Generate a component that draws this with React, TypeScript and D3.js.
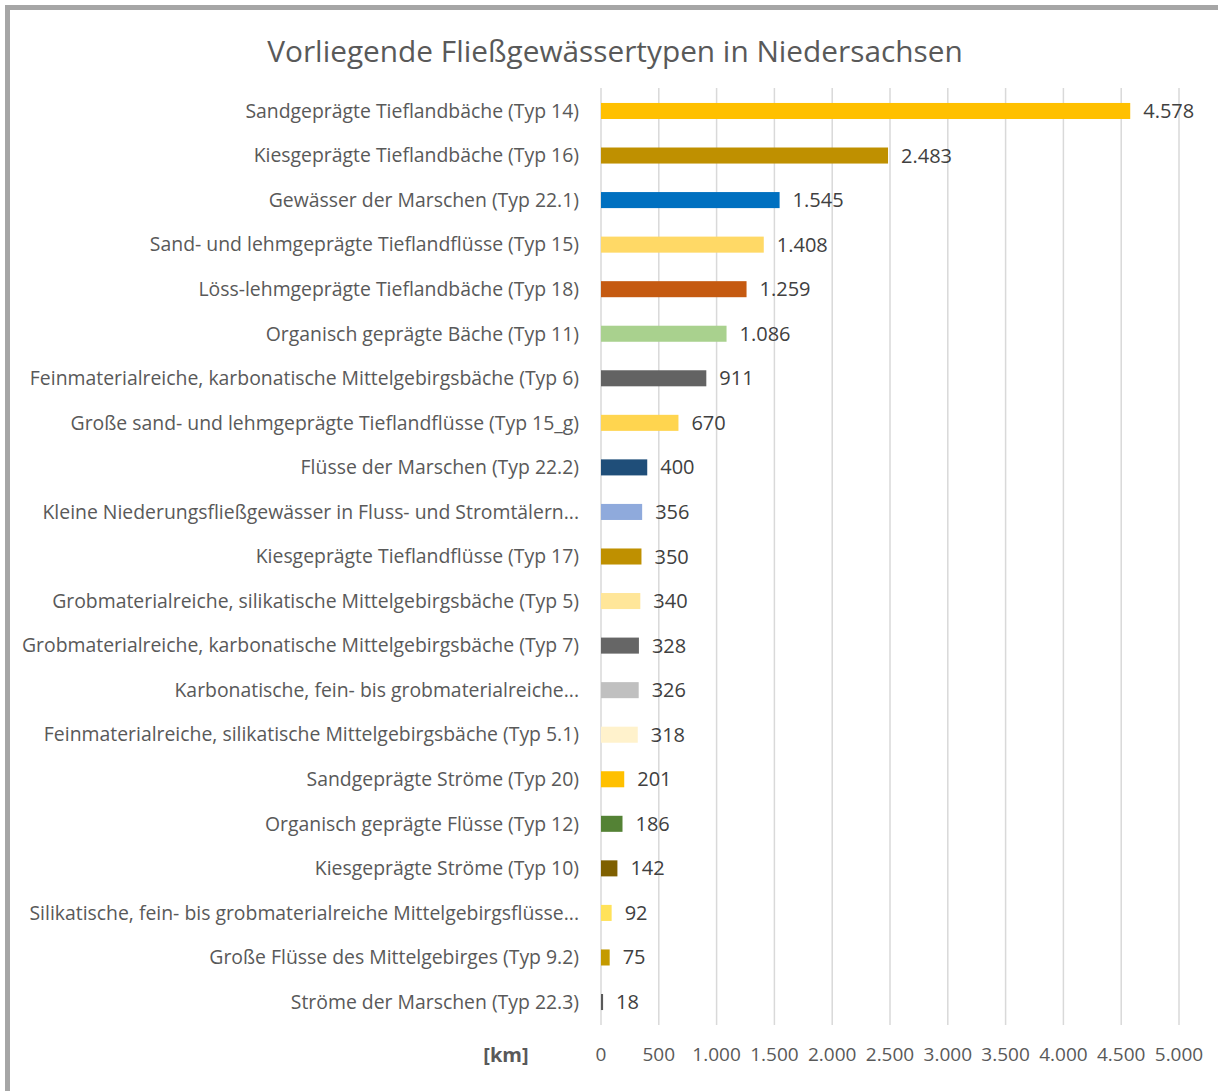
import React from "react";
import * as d3 from "d3";

const categories = [
  "Sandgeprägte Tieflandbäche (Typ 14)",
  "Kiesgeprägte Tieflandbäche (Typ 16)",
  "Gewässer der Marschen (Typ 22.1)",
  "Sand- und lehmgeprägte Tieflandflüsse (Typ 15)",
  "Löss-lehmgeprägte Tieflandbäche (Typ 18)",
  "Organisch geprägte Bäche (Typ 11)",
  "Feinmaterialreiche, karbonatische Mittelgebirgsbäche (Typ 6)",
  "Große sand- und lehmgeprägte Tieflandflüsse (Typ 15_g)",
  "Flüsse der Marschen (Typ 22.2)",
  "Kleine Niederungsfließgewässer in Fluss- und Stromtälern...",
  "Kiesgeprägte Tieflandflüsse (Typ 17)",
  "Grobmaterialreiche, silikatische Mittelgebirgsbäche (Typ 5)",
  "Grobmaterialreiche, karbonatische Mittelgebirgsbäche (Typ 7)",
  "Karbonatische, fein- bis grobmaterialreiche...",
  "Feinmaterialreiche, silikatische Mittelgebirgsbäche (Typ 5.1)",
  "Sandgeprägte Ströme (Typ 20)",
  "Organisch geprägte Flüsse (Typ 12)",
  "Kiesgeprägte Ströme (Typ 10)",
  "Silikatische, fein- bis grobmaterialreiche Mittelgebirgsflüsse...",
  "Große Flüsse des Mittelgebirges (Typ 9.2)",
  "Ströme der Marschen (Typ 22.3)",
];

const values = [4578, 2483, 1545, 1408, 1259, 1086, 911, 670, 400, 356, 350, 340, 328, 326, 318, 201, 186, 142, 92, 75, 18];

const colors = [
  "#FFC000", "#BF9000", "#0070C0", "#FFD966", "#C55A11", "#A9D18E", "#636363",
  "#FFD54F", "#1F4E79", "#8FAADC", "#BF9000", "#FFE699", "#666666", "#C0C0C0",
  "#FFF2CC", "#FFC000", "#548235", "#7F6000", "#FFE25A", "#C49A00", "#595959",
];

const tickValues = [0, 500, 1000, 1500, 2000, 2500, 3000, 3500, 4000, 4500, 5000];

const fmt = (v: number) => d3.format(",")(v).replace(/,/g, ".");

export default function App() {
  const W = 1218, H = 1091;
  const x = d3.scaleLinear().domain([0, 5000]).range([601, 1179]);
  const y = d3.scaleBand<string>().domain(categories).range([88.7, 1024.3]).paddingInner(0.64).paddingOuter(0.32);
  const font = "'Open Sans', Lato, sans-serif";
  return (
    <svg width={W} height={H} style={{ position: "absolute", left: 0, top: 0, background: "#fff" }} fontFamily={font}>
      <rect x={0} y={0} width={W} height={H} fill="#fff" />
      <rect x={5} y={5} width={W} height={5} fill="#a6a6a6" />
      <rect x={5} y={5} width={5} height={H} fill="#a6a6a6" />
      <text x={615} y={62} textAnchor="middle" fontSize={29.8} fill="#595959">
        Vorliegende Fließgewässertypen in Niedersachsen
      </text>
      {tickValues.map((t) => (
        <line key={"g" + t} x1={x(t)} x2={x(t)} y1={88} y2={1025} stroke="#d9d9d9" strokeWidth={1.5} />
      ))}
      {categories.map((c, i) => {
        const yy = y(c)!;
        const h = y.bandwidth();
        return (
          <g key={c}>
            <rect x={x(0)} y={yy} width={Math.max(1.5, x(values[i]) - x(0))} height={h} fill={colors[i]} />
            <text x={579} y={yy + h / 2} dy="0.35em" textAnchor="end" fontSize={19.4} fill="#595959">{c}</text>
            <text x={x(values[i]) + 13} y={yy + h / 2} dy="0.35em" textAnchor="start" fontSize={20} fill="#404040">{fmt(values[i])}</text>
          </g>
        );
      })}
      {tickValues.map((t) => (
        <text key={"t" + t} x={x(t)} y={1054} dy="0.35em" textAnchor="middle" fontSize={19} fill="#595959">{fmt(t)}</text>
      ))}
      <text x={506} y={1055} dy="0.35em" textAnchor="middle" fontSize={20} fontWeight="bold" fill="#595959">[km]</text>
    </svg>
  );
}
